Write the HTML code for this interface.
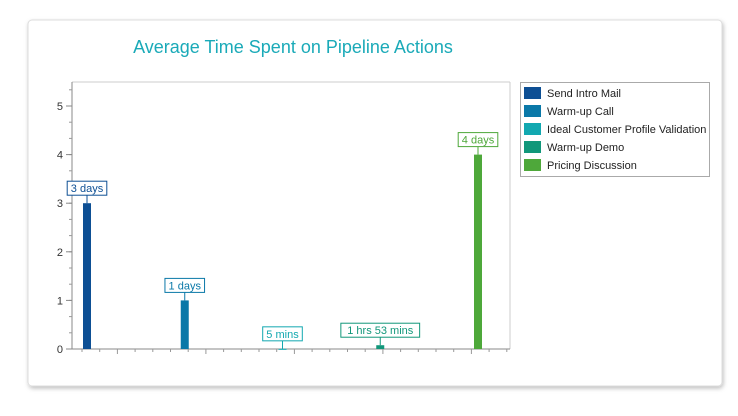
<!DOCTYPE html>
<html><head><meta charset="utf-8"><style>
body{margin:0;background:#fff;font-family:"Liberation Sans",sans-serif}
</style></head><body>
<svg width="738" height="416" xmlns="http://www.w3.org/2000/svg" style="display:block">
<defs><filter id="sh" x="-5%" y="-5%" width="110%" height="115%"><feDropShadow dx="1" dy="2" stdDeviation="2" flood-color="#000" flood-opacity="0.25"/></filter></defs>
<rect x="28" y="20" width="694" height="366" rx="4" fill="#fff" stroke="#ddd" filter="url(#sh)"/>
<text x="293" y="53" text-anchor="middle" font-size="18" fill="#1aaab8">Average Time Spent on Pipeline Actions</text>
<g id="axes"></g>
<g id="bars"></g>
<g id="legend"></g>
</svg>
<script>
const categories=["Send Intro Mail","Warm-up Call","Ideal Customer Profile Validation","Warm-up Demo","Pricing Discussion"];
const values=[3,1,0.0035,0.078,4];
const labels=["3 days","1 days","5 mins","1 hrs 53 mins","4 days"];
const colors=["#0d4f94","#0a78a8","#12a8b0","#11977a","#4ea83a"];
const yTicks=[0,1,2,3,4,5];
const NS="http://www.w3.org/2000/svg";
const X0=72,X1=510,Y0=349,Y1=82,YMAX=5.5;
function y(v){return Y0-v*(Y0-106)/5;}
function x(i){return 87+i*97.75;}
function mk(t,a,p){const e=document.createElementNS(NS,t);for(const k in a)e.setAttribute(k,a[k]);p.appendChild(e);return e;}
const ax=document.getElementById('axes');
const grid=mk('line',{x1:X0,y1:Y1,x2:X1,y2:Y1,stroke:'#ccc'},ax);


const rb=mk('line',{x1:X1,y1:Y1,x2:X1,y2:Y0,stroke:'#ccc'},ax);


const ya=mk('line',{x1:X0,y1:Y1,x2:X0,y2:Y0,stroke:'#888'},ax);


const xa=mk('line',{x1:X0,y1:Y0,x2:X1,y2:Y0,stroke:'#888'},ax);


for(let v=0;v<=YMAX+0.001;v+=1/3){const t=mk('line',{x1:X0-3,y1:y(v),x2:X0,y2:y(v),stroke:'#999'},ax);}
yTicks.forEach(v=>{
const t=mk('line',{x1:X0-6,y1:y(v),x2:X0,y2:y(v),stroke:'#888'},ax);


const l=mk('text',{x:X0-9,y:y(v)+4,'text-anchor':'end','font-size':'11',fill:'#333'},ax);l.textContent=v;


});
for(let k=0;k<25;k++){const xx=82+k*17.7;if(xx>X1)break;const maj=(k%5)==2;const t=mk('line',{x1:xx,y1:Y0,x2:xx,y2:Y0+(maj?5:3),stroke:'#999'},ax);}
const bg=document.getElementById('bars');
values.forEach((v,i)=>{
const top=y(v),cx=x(i),c=colors[i];
const b=mk('rect',{x:cx-4,y:top,width:8,height:Math.max(Y0-top,1),fill:c},bg);


mk('line',{x1:cx,y1:top,x2:cx,y2:top-8,stroke:c},bg);
const w=labels[i].length*5.6+6;
const r=mk('rect',{x:cx-w/2,y:top-22,width:w,height:14,fill:'#fff',stroke:c},bg);


const t=mk('text',{x:cx,y:top-11,'text-anchor':'middle','font-size':'11',fill:c},bg);t.textContent=labels[i];


});
const lg=document.getElementById('legend');
const lb=mk('rect',{x:520.5,y:82.5,width:189,height:94,fill:'#fff',stroke:'#aaa'},lg);


categories.forEach((c,i)=>{
const yy=87+i*18;
const s=mk('rect',{x:524,y:yy,width:17,height:12,fill:colors[i]},lg);


const t=mk('text',{x:547,y:yy+10,'font-size':'11',fill:'#222'},lg);t.textContent=c;


});
</script>
</body></html>
